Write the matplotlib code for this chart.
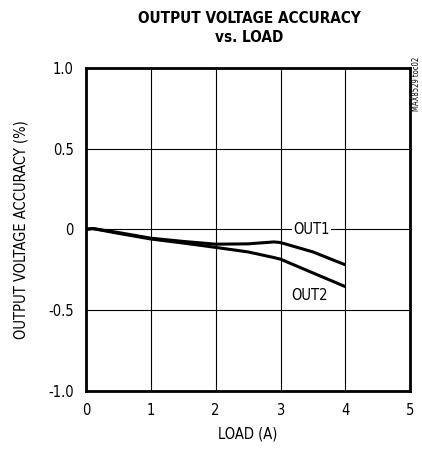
import matplotlib
matplotlib.use("Agg")
import matplotlib.pyplot as plt

plt.rcParams['font.family'] = ['DejaVu Sans']
plt.rcParams['font.stretch'] = 'condensed'

load = [0, 0.1, 0.5, 1, 1.5, 2, 2.5, 2.9, 3.0, 3.5, 4.0]
out1 = [0.0, 0.005, -0.02, -0.055, -0.075, -0.092, -0.09, -0.078, -0.082, -0.14, -0.22]
out2 = [0.0, 0.005, -0.025, -0.06, -0.085, -0.112, -0.14, -0.175, -0.185, -0.27, -0.355]

fig = plt.figure(figsize=(4.22, 4.55), dpi=100)
ax = fig.add_axes([0.204, 0.141, 0.768, 0.710])

ax.plot(load, out1, color="black", lw=2.2, solid_capstyle="butt")
ax.plot(load, out2, color="black", lw=2.2, solid_capstyle="butt")

ax.set_xlim(0, 5)
ax.set_ylim(-1.0, 1.0)
ax.set_xticks([0, 1, 2, 3, 4, 5])
ax.set_yticks([-1.0, -0.5, 0, 0.5, 1.0])
ax.set_yticklabels(["-1.0", "-0.5", "0", "0.5", "1.0"])
ax.grid(True, color="black", lw=0.8)
ax.tick_params(length=0, labelsize=10.5, pad=9)
for s in ax.spines.values():
    s.set_linewidth(2)

ax.text(3.48, 0, "OUT1", ha="center", va="center", fontsize=10.5,
        bbox=dict(facecolor="white", edgecolor="none", pad=1))
ax.text(3.44, -0.41, "OUT2", ha="center", va="center", fontsize=10.5)

ax.set_xlabel("LOAD (A)", fontsize=10.5, labelpad=6)
ax.set_ylabel("OUTPUT VOLTAGE ACCURACY (%)", fontsize=10.5, labelpad=14)

fig.text(0.59, 0.939, "OUTPUT VOLTAGE ACCURACY\nvs. LOAD", ha="center", va="center",
         fontsize=11, fontweight="bold", linespacing=1.3)
fig.text(0.986, 0.875, "MAX8529 toc02", rotation=90, ha="center", va="top", fontsize=5.5)

fig.savefig("out.png", dpi=100)
